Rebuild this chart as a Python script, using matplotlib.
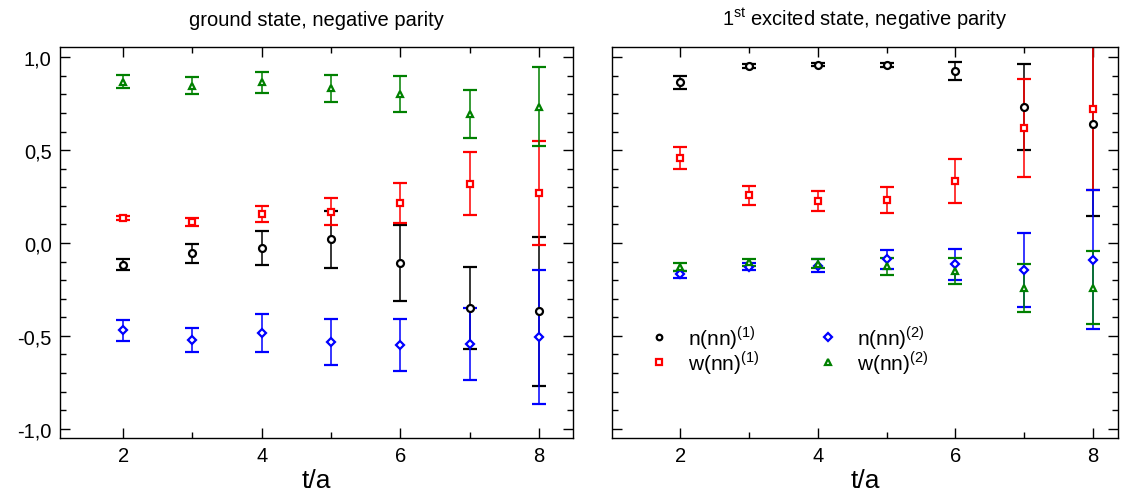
import matplotlib
matplotlib.use("Agg")
import matplotlib.pyplot as plt
from matplotlib.ticker import MultipleLocator, FixedLocator, FuncFormatter

plt.rcParams['font.family'] = ['Liberation Sans', 'DejaVu Sans']
plt.rcParams['mathtext.fontset'] = 'custom'
plt.rcParams['mathtext.rm'] = 'Liberation Sans'

t = [2, 3, 4, 5, 6, 7, 8]

# ground state, negative parity
g_n1 = [-0.117, -0.056, -0.027, 0.019, -0.110, -0.350, -0.368]
g_n1_err = [0.030, 0.053, 0.093, 0.155, 0.205, 0.220, 0.400]
g_w1 = [0.134, 0.113, 0.158, 0.168, 0.217, 0.319, 0.270]
g_w1_err = [0.013, 0.023, 0.043, 0.072, 0.108, 0.168, 0.280]
g_n2 = [-0.471, -0.523, -0.486, -0.532, -0.552, -0.543, -0.507]
g_n2_err = [0.058, 0.064, 0.103, 0.124, 0.140, 0.195, 0.360]
g_w2 = [0.869, 0.847, 0.864, 0.833, 0.801, 0.695, 0.734]
g_w2_err = [0.037, 0.045, 0.057, 0.072, 0.097, 0.128, 0.214]

# 1st excited state, negative parity
e_n1 = [0.864, 0.953, 0.960, 0.959, 0.925, 0.733, 0.643]
e_n1_err = [0.035, 0.010, 0.010, 0.010, 0.048, 0.233, 0.500]
e_w1 = [0.459, 0.256, 0.227, 0.231, 0.333, 0.618, 0.720]
e_w1_err = [0.060, 0.049, 0.055, 0.070, 0.120, 0.263, 0.433]
e_n2 = [-0.169, -0.127, -0.122, -0.088, -0.115, -0.144, -0.090]
e_n2_err = [0.020, 0.020, 0.037, 0.050, 0.083, 0.200, 0.375]
e_w2 = [-0.129, -0.104, -0.111, -0.126, -0.149, -0.242, -0.240]
e_w2_err = [0.020, 0.020, 0.025, 0.045, 0.070, 0.130, 0.195]

labels = [r'n(nn)$^{(1)}$', r'w(nn)$^{(1)}$', r'n(nn)$^{(2)}$', r'w(nn)$^{(2)}$']
colors = ['black', 'red', 'blue', 'green']
markers = ['o', 's', 'D', '^']
msizes = [5, 5, 4.5, 5]

fig = plt.figure(figsize=(11.28, 5.02), dpi=100)
ax1 = fig.add_axes([0.0532, 0.1255, 0.4548, 0.7789])
ax2 = fig.add_axes([0.5423, 0.1255, 0.4489, 0.7789])


def draw(ax, series, errs):
    handles = []
    for y, e, c, m, ms, lab in zip(series, errs, colors, markers, msizes, labels):
        h = ax.errorbar(t, y, yerr=e, fmt=m, color=c, ecolor=c, mfc='white',
                        mec=c, mew=1.6, ms=ms, elinewidth=1.1, capsize=5,
                        capthick=1.1, label=lab)
        handles.append(h)
    ax.set_ylim(-1.05, 1.055)
    ax.xaxis.set_major_locator(FixedLocator([2, 4, 6, 8]))
    ax.xaxis.set_minor_locator(FixedLocator([3, 5, 7]))
    ax.yaxis.set_major_locator(MultipleLocator(0.5))
    ax.yaxis.set_minor_locator(MultipleLocator(0.1))
    ax.tick_params(which='both', direction='in', top=True, right=True)
    ax.tick_params(which='major', length=7, width=1.0, labelsize=14.5, pad=6)
    ax.tick_params(which='minor', length=4, width=1.0)
    for s in ax.spines.values():
        s.set_linewidth(1.0)
    ax.set_xlabel('t/a', fontsize=19, labelpad=2)
    return handles


draw(ax1, [g_n1, g_w1, g_n2, g_w2], [g_n1_err, g_w1_err, g_n2_err, g_w2_err])
ax1.set_xlim(1.09, 8.49)
ax1.yaxis.set_major_formatter(FuncFormatter(lambda v, p: f'{v:.1f}'.replace('.', ',')))
ax1.set_title('ground state, negative parity', fontsize=14.5, pad=16)

hs = draw(ax2, [e_n1, e_w1, e_n2, e_w2], [e_n1_err, e_w1_err, e_n2_err, e_w2_err])
ax2.set_xlim(1.0, 8.37)
ax2.set_yticklabels([])
ax2.set_title(r'1$^{\rm st}$ excited state, negative parity', fontsize=14.5, pad=16)

leg_handles = [h[0] for h in hs]
ax2.legend(leg_handles, labels, ncol=2, frameon=False, fontsize=15,
           loc='center left', bbox_to_anchor=(0.073, 0.226), handlelength=1.0,
           handletextpad=0.87, columnspacing=2.82, labelspacing=-0.12,
           borderaxespad=0, borderpad=0, markerscale=0.8)

fig.savefig('out.png', dpi=100)
